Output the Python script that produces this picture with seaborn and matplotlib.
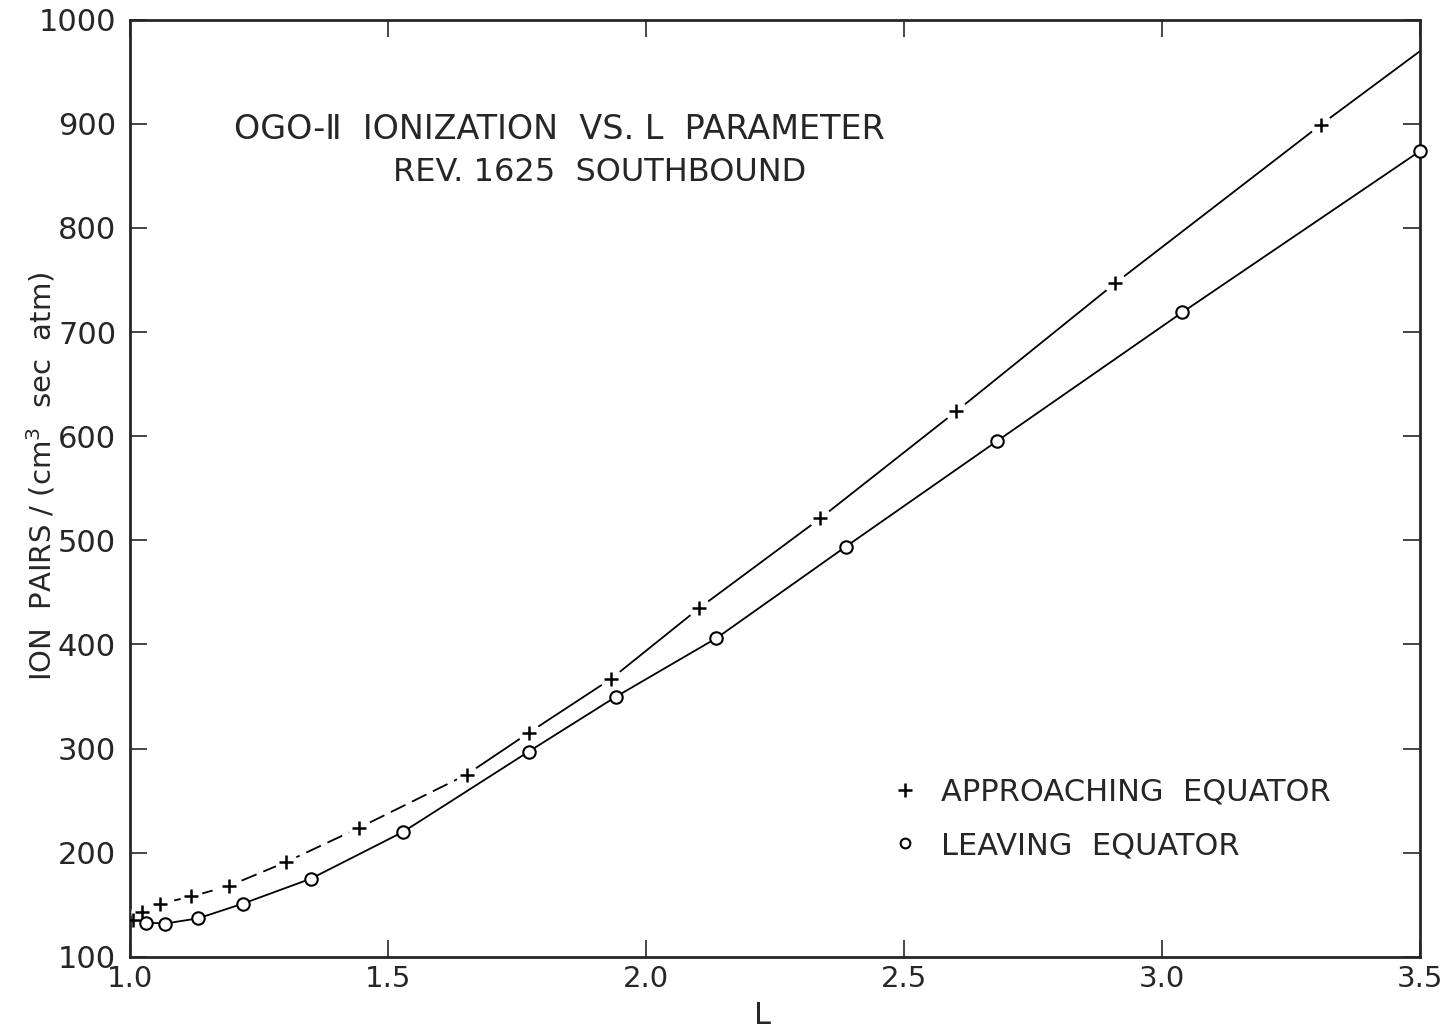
import matplotlib
matplotlib.use("Agg")
import matplotlib.pyplot as plt
import seaborn as sns
import numpy as np
import pandas as pd

# Data
L_approach = [1.005, 1.023, 1.058, 1.119, 1.191, 1.302, 1.444, 1.652, 1.772,
              1.932, 2.103, 2.337, 2.601, 2.909, 3.307, 3.5]
ion_approach = [135, 143, 151, 158, 168, 191, 224, 275, 315,
                367, 435, 521, 624, 747, 899, 970]
approach_marked = [True] * 15 + [False]

L_leave = [1.03, 1.068, 1.132, 1.218, 1.350, 1.529, 1.772, 1.942, 2.136,
           2.387, 2.679, 3.039, 3.5]
ion_leave = [133, 132, 137, 151, 175, 220, 297, 350, 406,
             494, 595, 719, 874]

x_ticks = [1.0, 1.5, 2.0, 2.5, 3.0, 3.5]
y_ticks = [100, 200, 300, 400, 500, 600, 700, 800, 900, 1000]

title_lines = ["OGO-Ⅱ  IONIZATION  VS. L  PARAMETER", "REV. 1625  SOUTHBOUND"]
legend_labels = ["APPROACHING  EQUATOR", "LEAVING  EQUATOR"]

sns.set_style("ticks")
plt.rcParams['font.family'] = ['DejaVu Sans']

df_a = pd.DataFrame({"L": L_approach, "ion": ion_approach, "mark": approach_marked})
df_l = pd.DataFrame({"L": [1.0] + L_leave, "ion": [136] + ion_leave})

fig = plt.figure(figsize=(14.45, 10.30), dpi=100)
ax = fig.add_axes([0.09, 0.071, 0.893, 0.910])

split = 7  # dashed low-L part up to this index
dash_part = df_a.iloc[:split + 1]
solid_part = df_a.iloc[split:]

sns.lineplot(data=dash_part, x="L", y="ion", ax=ax, color="black", lw=1.3,
             sort=False, estimator=None, linestyle=(0, (9, 4)), zorder=2)
sns.lineplot(data=solid_part, x="L", y="ion", ax=ax, color="black", lw=1.3,
             sort=False, estimator=None, zorder=2)
sns.lineplot(data=df_l, x="L", y="ion", ax=ax, color="black", lw=1.3,
             sort=False, estimator=None, zorder=2)

marked = df_a[df_a["mark"]]
# white halo behind "+" markers so the curve breaks around them
sns.scatterplot(data=marked.iloc[1:], x="L", y="ion", ax=ax, marker="o", s=260,
                color="white", linewidth=0, zorder=4)
sns.scatterplot(data=marked, x="L", y="ion", ax=ax, marker="+", s=110,
                color="black", linewidth=1.8, zorder=5)
sns.scatterplot(x=L_leave, y=ion_leave, ax=ax, marker="o", s=80,
                facecolor="white", edgecolor="black", linewidth=1.5, zorder=5,
                clip_on=False)

ax.set_xlim(1.0, 3.5)
ax.set_ylim(100, 1000)
ax.set_xticks(x_ticks)
ax.set_xticklabels([f"{t:.1f}" for t in x_ticks])
ax.set_yticks(y_ticks)
ax.set_yticklabels([str(t) for t in y_ticks])
ax.tick_params(direction="in", length=12, width=1.2, top=True, right=True)
ax.tick_params(axis="x", pad=6, labelsize=21)
ax.tick_params(axis="y", pad=10, labelsize=22)
for sp in ax.spines.values():
    sp.set_linewidth(2.0)
    sp.set_visible(True)

ax.set_xlabel("L", fontsize=22, va="top")
ax.xaxis.set_label_coords(0.49, -0.047)
ax.set_ylabel("ION  PAIRS / (cm$^3$  sec  atm)", fontsize=21)
ax.yaxis.set_label_coords(-0.056, 0.513)

ax.text(0.333, 0.883, title_lines[0], transform=ax.transAxes, fontsize=24,
        ha="center", va="center")
ax.text(0.364, 0.837, title_lines[1], transform=ax.transAxes, fontsize=23,
        ha="center", va="center")

h1 = plt.Line2D([], [], marker="+", ls="none", color="black", ms=10, mew=1.8)
h2 = plt.Line2D([], [], marker="o", ls="none", mfc="white", mec="black", ms=7, mew=1.5)
ax.legend([h1, h2], legend_labels, loc="lower right", bbox_to_anchor=(0.952, 0.074),
          frameon=False, fontsize=22, handlelength=0.8, handletextpad=0.8,
          labelspacing=0.8)

fig.savefig("out.png", dpi=100)
